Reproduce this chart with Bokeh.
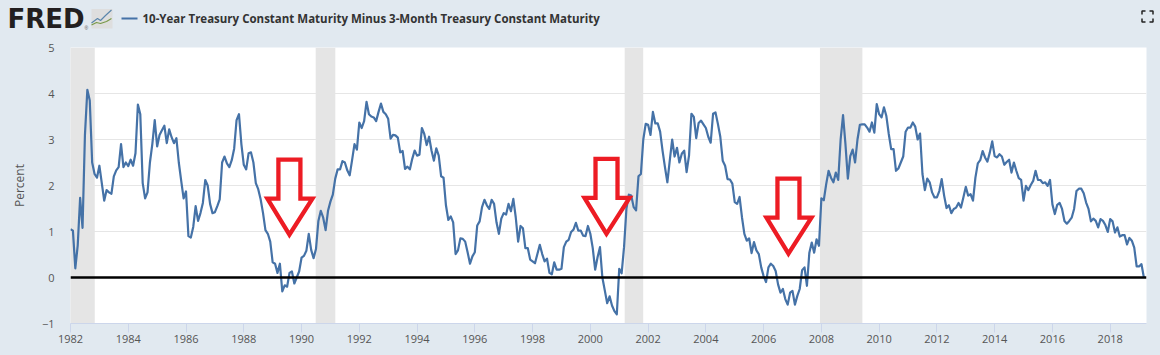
from bokeh.plotting import figure
from bokeh.embed import file_html
from bokeh.resources import INLINE
from bokeh.models import Range1d, FixedTicker, Span
from bokeh.core.properties import value

TITLE = "10-Year Treasury Constant Maturity Minus 3-Month Treasury Constant Maturity"
START_YEAR = 1982
values_1982_1985 = [1.05,1.02,0.2,0.7,1.73,1.08,3.1,4.08,3.85,2.5,2.25,2.17,
  2.43,2.05,1.67,1.9,1.85,1.82,2.2,2.33,2.4,2.9,2.4,2.5,
  2.42,2.56,2.43,2.7,3.76,3.55,2.05,1.72,1.85,2.5,2.9,3.42,
  2.85,3.1,3.2,3.3,2.92,3.22,3.05,2.92,3.03,2.5,2.1,1.72]
values_1986_1989 = [1.87,0.9,0.87,1.1,1.55,1.23,1.4,1.62,2.12,2.0,1.6,1.4,
  1.42,1.55,1.7,2.5,2.63,2.48,2.4,2.55,2.8,3.42,3.55,2.9,
  2.45,2.35,2.7,2.72,2.5,2.05,1.92,1.7,1.4,1.03,0.95,0.78,
  0.33,0.3,0.1,0.3,-0.3,-0.17,-0.2,0.1,0.13,-0.13,0.0,0.13]
values_1990_1993 = [0.43,0.47,0.58,0.95,0.6,0.42,0.62,1.23,1.45,1.3,1.03,1.45,
  1.65,1.8,2.15,2.35,2.35,2.53,2.5,2.33,2.22,2.55,2.9,2.78,
  3.37,3.25,3.4,3.82,3.55,3.5,3.48,3.4,3.6,3.78,3.6,3.55,
  3.45,3.02,3.1,3.09,3.04,2.72,2.75,2.36,2.41,2.35,2.58,2.76]
values_1994_1997 = [2.65,2.67,3.25,3.12,2.88,3.06,2.76,2.54,2.81,2.65,2.2,2.17,
  1.57,1.25,1.33,1.2,0.51,0.59,0.85,0.84,0.78,0.55,0.3,0.46,
  0.55,1.13,1.22,1.53,1.69,1.57,1.49,1.69,1.6,1.2,0.95,1.28,
  1.4,1.37,1.6,1.44,1.71,1.31,0.78,1.12,1.07,0.64,0.64,0.39]
values_1998_2001 = [0.35,0.31,0.51,0.71,0.51,0.35,0.41,0.1,0.07,0.33,0.17,0.17,
  0.19,0.66,0.78,0.82,0.99,1.04,1.19,1.02,1.02,0.91,0.9,1.12,
  0.95,0.64,0.17,0.44,0.66,0.0,-0.28,-0.56,-0.41,-0.61,-0.73,-0.8,
  0.19,0.09,0.66,1.5,1.8,1.78,1.53,1.46,2.2,2.25,3.0,3.34]
values_2002_2005 = [3.32,3.1,3.6,3.35,3.35,3.17,2.76,2.4,2.07,2.54,3.0,2.63,
  2.82,2.5,2.69,2.76,2.29,2.65,3.56,3.49,3.03,3.36,3.41,3.33,
  3.25,3.06,2.93,3.56,3.59,3.34,3.06,2.54,2.43,2.14,2.13,2.04,
  1.64,1.6,1.75,1.31,0.95,0.8,0.85,0.53,0.77,0.59,0.51,0.22]
values_2006_2009 = [0.03,-0.1,0.22,0.3,0.25,0.14,-0.15,-0.33,-0.25,-0.47,-0.59,-0.33,
  -0.29,-0.59,-0.4,-0.25,0.16,0.22,-0.18,0.54,0.76,0.54,0.83,0.69,
  1.72,1.68,2.03,2.32,2.17,2.07,2.28,2.12,3.0,3.53,2.9,2.15,
  2.64,2.78,2.5,3.0,3.32,3.33,3.33,3.26,3.17,3.37,3.15,3.77]
values_2010_2013 = [3.55,3.48,3.7,3.51,3.12,2.79,2.79,2.32,2.37,2.5,2.63,3.17,
  3.26,3.26,3.37,3.28,3.0,3.13,2.25,1.9,2.15,2.07,1.85,1.74,
  1.74,1.88,2.14,1.78,1.51,1.57,1.4,1.49,1.52,1.62,1.52,1.74,
  1.97,1.78,1.81,1.67,2.17,2.48,2.55,2.75,2.61,2.52,2.72,2.96]
values_2014_2017 = [2.64,2.61,2.68,2.63,2.45,2.51,2.56,2.28,2.5,2.32,2.16,2.12,
  1.67,1.99,1.9,2.01,2.1,2.32,2.12,2.12,2.05,2.07,1.99,2.12,
  1.59,1.38,1.58,1.62,1.49,1.23,1.17,1.23,1.3,1.49,1.88,1.93,
  1.93,1.83,1.63,1.49,1.22,1.28,1.23,1.09,1.27,1.23,1.14,0.99]
values_2018_2019 = [1.27,1.22,0.98,1.09,0.89,0.92,0.92,0.72,0.86,0.8,0.65,0.24,
  0.24,0.29,0.0]
recession_start = [1981.6, 1990.49, 2001.19, 2007.95]
recession_end = [1982.84, 1991.17, 2001.83, 2009.42]
arrow_tip_year = [1989.58, 2000.56, 2006.86]
arrow_tip_value = [0.93, 0.95, 0.52]
year_ticks = list(range(1982, 2019, 2))
value_ticks = [-1, 0, 1, 2, 3, 4, 5]

values = (values_1982_1985 + values_1986_1989 + values_1990_1993 + values_1994_1997 + values_1998_2001
          + values_2002_2005 + values_2006_2009 + values_2010_2013 + values_2014_2017 + values_2018_2019)
years = [START_YEAR + i / 12 for i in range(len(values))]

BG = "#e1e9f0"
FIG_W, HEAD_H, MAIN_H = 1160, 40, 315
L, R, T, B = 70, 1146, 47, 323
x0 = START_YEAR
x1 = x0 + (R - L) / 28.88

# Header strip: x and y are its own pixel positions, y downward
h = figure(width=FIG_W, height=HEAD_H, output_backend="svg", toolbar_location=None,
           x_range=Range1d(0, FIG_W), y_range=Range1d(HEAD_H, 0),
           background_fill_color=None, border_fill_color=None,
           min_border_left=0, min_border_right=0, min_border_top=0, min_border_bottom=0)
h.outline_line_color = None
h.axis.visible = False
h.grid.visible = False

def head_text(text, x, y, size, color, font, style="normal"):
    h.text([x], [y], text=[text], text_font=value(font), text_font_size=value(size), text_font_style=style,
           text_color=color, text_baseline="middle", text_align="left")

head_text("FRED", 7, 18.5, "26px", "#231f20", "DejaVu Sans", "bold")
head_text("®", 84, 27, "5px", "#555555", "Liberation Sans")
h.patch([91, 112, 112, 91], [8.5, 8.5, 28, 28], fill_color="#dedede", line_color=None)
h.line([91, 97, 100, 105, 111], [22.5, 18, 20, 15, 9.5], line_color="#5b86ab", line_width=1.2)
h.line([91, 96, 100, 106, 111], [24.5, 22, 23, 21, 18], line_color="#7a9a4a", line_width=1.2)
h.line([121, 137], [18, 18], line_color="#4572a7", line_width=2)
head_text(TITLE, 142, 18, "11.5px", "#333333", "Open Sans", "bold")
for xs, ys in (([1141.5, 1141.5, 1145], [14, 10.5, 10.5]), ([1149, 1152.5, 1152.5], [10.5, 10.5, 14]),
               ([1141.5, 1141.5, 1145], [18, 21.5, 21.5]), ([1149, 1152.5, 1152.5], [21.5, 21.5, 18])):
    h.line(xs, ys, line_color="#222222", line_width=1.5)

# Main chart
p = figure(width=FIG_W, height=MAIN_H, output_backend="svg", toolbar_location=None,
           x_range=Range1d(x0, x1), y_range=Range1d(-1, 5),
           background_fill_color="white", border_fill_color=None,
           min_border_left=L, min_border_right=FIG_W - R,
           min_border_top=T - HEAD_H, min_border_bottom=HEAD_H + MAIN_H - B)
p.outline_line_color = None
p.xgrid.visible = False
p.ygrid.ticker = FixedTicker(ticks=value_ticks)
p.ygrid.grid_line_color = "#e6e6e6"
p.ygrid.grid_line_width = 1

for ax, ticks in ((p.xaxis[0], year_ticks), (p.yaxis[0], value_ticks)):
    ax.ticker = FixedTicker(ticks=ticks)
    ax.minor_tick_line_color = None
    ax.major_label_text_font = "Open Sans"
    ax.major_label_text_font_size = "11px"
    ax.major_label_text_color = "#555555"
p.xaxis.axis_line_color = "#ccd6eb"
p.xaxis.major_tick_line_color = "#ccd6eb"
p.xaxis.major_tick_in = 0
p.xaxis.major_tick_out = 9
p.xaxis.major_label_standoff = 2
p.yaxis.axis_line_color = None
p.yaxis.major_tick_line_color = None
p.yaxis.major_tick_in = 0
p.yaxis.major_tick_out = 0
p.yaxis.major_label_standoff = 16
p.yaxis.axis_label = "Percent"
p.yaxis.axis_label_text_font = "Open Sans"
p.yaxis.axis_label_text_font_size = "12px"
p.yaxis.axis_label_text_font_style = "normal"
p.yaxis.axis_label_text_color = "#555555"
p.yaxis.axis_label_standoff = 11

p.quad(left=recession_start, right=recession_end, bottom=-1, top=5, fill_color="#e5e5e5", line_color=None)
p.add_layout(Span(location=0, dimension="width", line_color="black", line_width=2.4))
p.line(years, values, line_color="#4572a7", line_width=2.2, line_join="round")

# Hand-drawn red arrows; outline offsets are in pixels around each tip
ARROW = [(0, 0), (-22, -36), (-11, -36), (-11, -75), (11, -75), (11, -36), (23, -36)]
px_x = (x1 - x0) / (R - L)
px_y = 6 / (B - T)
for ty, tv in zip(arrow_tip_year, arrow_tip_value):
    p.patch([ty + dx * px_x for dx, dy in ARROW], [tv - dy * px_y for dx, dy in ARROW],
            fill_color=None, fill_alpha=0, line_color="#ed1c24", line_width=4.3, line_join="miter")

html = file_html([h, p], INLINE)
html = html.replace("<head>", f"<head><style>html,body{{background:{BG};}}</style>", 1)
open("out.html", "w").write(html)
